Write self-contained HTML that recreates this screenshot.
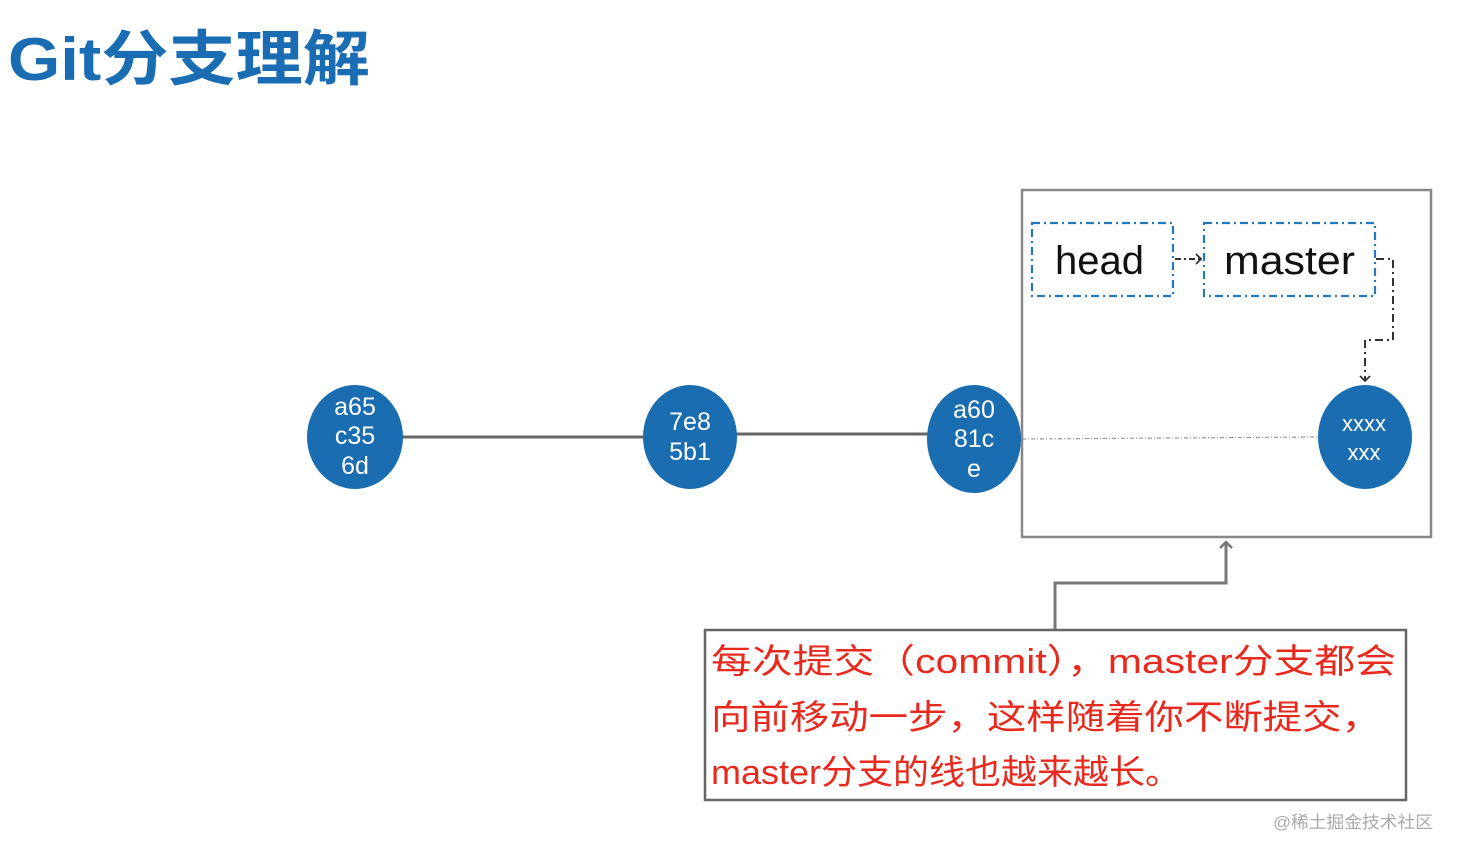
<!DOCTYPE html>
<html><head><meta charset="utf-8"><style>
html,body{margin:0;padding:0;background:#fff;}
svg{display:block;}
</style></head><body>
<svg width="1457" height="855" viewBox="0 0 1457 855" xmlns="http://www.w3.org/2000/svg">
<defs>
<marker id="ah" markerWidth="12" markerHeight="12" refX="6" refY="6" orient="auto" markerUnits="userSpaceOnUse">
<path d="M1,1 L6,6 L1,11" fill="none" stroke="#333" stroke-width="1.8"/>
</marker>
<marker id="ag" markerWidth="16" markerHeight="16" refX="8" refY="8" orient="auto" markerUnits="userSpaceOnUse">
<path d="M2,2 L8,8 L2,14" fill="none" stroke="#777" stroke-width="2.5"/>
</marker>
</defs>
<text x="8" y="80" textLength="362" lengthAdjust="spacingAndGlyphs" font-family="'Liberation Sans','Noto Sans CJK SC',sans-serif" font-weight="bold" font-size="60" fill="#1a6db3">Git分支理解</text>

<line x1="400" y1="437" x2="645" y2="437" stroke="#666" stroke-width="3"/>
<line x1="735" y1="434" x2="930" y2="434" stroke="#666" stroke-width="3"/>

<rect x="1022" y="190" width="409" height="347" fill="none" stroke="#888" stroke-width="2.5"/>
<line x1="1022" y1="439" x2="1318" y2="437" stroke="#999" stroke-width="1.2" stroke-dasharray="4,2,1,2"/>

<g font-family="'Liberation Sans','Noto Sans CJK SC',sans-serif" fill="#fff" font-size="25" text-anchor="middle">
<ellipse cx="355" cy="437" rx="48" ry="52" fill="#1a6db0"/>
<text x="355" y="415">a65</text><text x="355" y="444">c35</text><text x="355" y="474">6d</text>
<ellipse cx="690" cy="437" rx="47" ry="52" fill="#1a6db0"/>
<text x="690" y="430">7e8</text><text x="690" y="460">5b1</text>
<ellipse cx="974" cy="439" rx="47" ry="54" fill="#1a6db0"/>
<text x="974" y="418">a60</text><text x="974" y="447">81c</text><text x="974" y="477">e</text>
<ellipse cx="1365" cy="437" rx="47" ry="52" fill="#1a6db0"/>
<text x="1364" y="431" font-size="22">xxxx</text><text x="1364" y="460" font-size="22">xxx</text>
</g>

<g fill="none" stroke="#2477c0" stroke-width="2.2" stroke-dasharray="8,4,2,4">
<rect x="1032" y="223" width="141" height="73"/>
<rect x="1204" y="223" width="171" height="73"/>
</g>
<g font-family="'Liberation Sans','Noto Sans CJK SC',sans-serif" font-size="40" fill="#111">
<text x="1055" y="274">head</text>
<text x="1224" y="274" textLength="131" lengthAdjust="spacingAndGlyphs">master</text>
</g>
<path d="M1175,259 L1201,259" stroke="#333" stroke-width="2" fill="none" stroke-dasharray="6,3,2,3" marker-end="url(#ah)"/>
<path d="M1376,259 L1393,259 L1393,340 L1365,340 L1365,381" stroke="#333" stroke-width="2" fill="none" stroke-dasharray="8,4,2,4" marker-end="url(#ah)"/>

<path d="M1055,629 L1055,583 L1226,583 L1226,542" stroke="#777" stroke-width="3" fill="none" marker-end="url(#ag)"/>

<rect x="705" y="630" width="701" height="170" fill="#fff" stroke="#666" stroke-width="2.5"/>
<g font-family="'Liberation Sans','Noto Sans CJK SC',sans-serif" font-size="34" fill="#e82a1e">
<text x="711" y="673" textLength="685" lengthAdjust="spacingAndGlyphs">每次提交（commit），master分支都会</text>
<text x="711" y="729" textLength="670" lengthAdjust="spacingAndGlyphs">向前移动一步，这样随着你不断提交，</text>
<text x="711" y="784" textLength="470" lengthAdjust="spacingAndGlyphs">master分支的线也越来越长。</text>
</g>
<text x="1273" y="828" textLength="160" lengthAdjust="spacingAndGlyphs" font-family="'Liberation Sans','Noto Sans CJK SC',sans-serif" font-size="17" fill="#aaa">@稀土掘金技术社区</text>
</svg>
</body></html>
